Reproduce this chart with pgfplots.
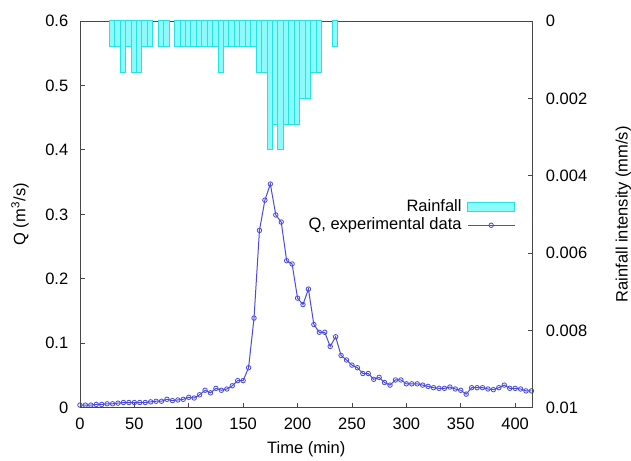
\documentclass[border=0pt]{standalone}
\usepackage{fontspec}
\setmainfont{Liberation Sans}
\usepackage{pgfplots}
\pgfplotsset{compat=1.18}
\definecolor{qblue}{RGB}{75,75,225}
\definecolor{rfill}{RGB}{140,250,250}
\definecolor{redge}{RGB}{40,225,225}
\definecolor{axgray}{RGB}{70,70,70}
\pgfplotsset{
  qlegend/.style={legend image code/.code={\draw[mark repeat=2,mark phase=2,##1,sharp plot] plot coordinates {(0pt,0pt) (14pt,0pt) (28pt,0pt)};}},
  rlegend/.style={legend image code/.code={\draw[fill=rfill, draw=redge, line width=0.6pt] (0pt,-2.7pt) rectangle (28pt,2.7pt);}},
}
\begin{document}
\begin{tikzpicture}
\pgfplotsset{
  common/.style={
    scale only axis, width=271.8pt, height=232.2pt,
    xmin=0, xmax=416,
    tick align=inside, major tick length=3pt,
    axis line style={axgray, line width=0.5pt},
    every tick/.style={axgray, line width=0.5pt},
    /pgf/number format/assume math mode=true,
    tick label style={font=\fontsize{9.9}{12}\selectfont},
    label style={font=\fontsize{9.9}{12}\selectfont, inner sep=0pt},
  },
  qstyle/.style={qblue, line width=0.6pt, mark=o, mark size=1.35pt, mark options={qblue, line width=0.5pt}},
}
\begin{axis}[common,
  ymin=0, ymax=0.6,
  xtick={0,50,...,400}, ytick={0,0.1,0.2,0.3,0.4,0.5,0.6},
  yticklabels={0,0.1,0.2,0.3,0.4,0.5,0.6},
  xtick pos=lower, ytick pos=left,
  xticklabel style={yshift=-2.5pt},
  yticklabel style={xshift=-3.5pt},
  xlabel={Time (min)}, ylabel={Q (m\textsuperscript{3}/s)},
  xlabel style={at={(rel axis cs:0.5,0)}, anchor=center, yshift=-25.2pt},
  ylabel style={at={(rel axis cs:0,0.5)}, anchor=center, rotate=0, yshift=36pt},
  clip=false,
]
\addplot[qstyle] coordinates {
(0,0.004) (5,0.004) (10,0.004) (15,0.005) (20,0.005) (25,0.006) (30,0.006) (35,0.007)
(40,0.008) (45,0.008) (50,0.008) (55,0.008) (60,0.008) (65,0.009) (70,0.010) (75,0.010)
(80,0.013) (85,0.011) (90,0.012) (95,0.013) (100,0.016) (105,0.015) (110,0.020) (115,0.027)
(120,0.023) (125,0.030) (130,0.027) (135,0.029) (140,0.034) (145,0.042) (150,0.042) (155,0.062)
(160,0.139) (165,0.275) (170,0.322) (175,0.347) (180,0.299) (185,0.288) (190,0.228) (195,0.223)
(200,0.170) (205,0.160) (210,0.184) (215,0.129) (220,0.117) (225,0.117) (230,0.095) (235,0.110)
(240,0.081) (245,0.074) (250,0.066) (255,0.062) (260,0.053) (265,0.053) (270,0.044) (275,0.047)
(280,0.039) (285,0.035) (290,0.043) (295,0.043) (300,0.037) (305,0.037) (310,0.037) (315,0.035)
(320,0.033) (325,0.031) (330,0.030) (335,0.030) (340,0.032) (345,0.029) (350,0.027) (355,0.021)
(360,0.031) (365,0.031) (370,0.031) (375,0.029) (380,0.028) (385,0.031) (390,0.035) (395,0.030)
(400,0.030) (405,0.029) (410,0.026) (415,0.026)
};
\end{axis}
\begin{axis}[common,
  ymin=0, ymax=0.01, y dir=reverse,
  xtick=\empty, scaled y ticks=false,
  ytick={0,0.002,0.004,0.006,0.008,0.01},
  yticklabels={0,0.002,0.004,0.006,0.008,0.01},
  ytick pos=right,
  yticklabel style={xshift=4.5pt},
  ylabel={Rainfall intensity (mm/s)},
  ylabel style={at={(rel axis cs:1,0.5)}, anchor=center, rotate=0, yshift=-54.5pt},
  ybar, bar width=5, bar shift=0pt,
  legend style={at={(0.962,0.545)}, anchor=north east, draw=none, fill=white,
    inner sep=0pt, row sep=-0.7pt, column sep=2pt,
    nodes={inner sep=1.5pt}, font=\fontsize{9.9}{12}\selectfont},
  legend cell align=right, legend plot pos=right,
]
\addplot[fill=rfill, draw=redge, line width=0.6pt, rlegend]
coordinates {
(29.5,0.000667) (34.5,0.000667) (39.5,0.001333) (44.5,0.000667) (49.5,0.001333) (54.5,0.001333)
(59.5,0.000667) (64.5,0.000667) (74.5,0.000667) (79.5,0.000667)
(89.5,0.000667) (94.5,0.000667) (99.5,0.000667) (104.5,0.000667) (109.5,0.000667) (114.5,0.000667)
(119.5,0.000667) (124.5,0.000667) (129.5,0.001333) (134.5,0.000667) (139.5,0.000667) (144.5,0.000667)
(149.5,0.000667) (154.5,0.000667) (159.5,0.000667)
(164.5,0.001333) (169.5,0.001333) (174.5,0.003333) (179.5,0.002667) (184.5,0.003333)
(189.5,0.002667) (194.5,0.002667) (199.5,0.002667) (204.5,0.002) (209.5,0.002)
(214.5,0.001333) (219.5,0.001333) (234.5,0.000667)
};
\addlegendentry{Rainfall}
\addlegendimage{qstyle, qlegend}
\addlegendentry{Q, experimental data}
\end{axis}
\path (current axis.south west) ++(-48pt,-31.8pt) rectangle ([shift={(58.8pt,12.6pt)}]current axis.north east);
\end{tikzpicture}
\end{document}
